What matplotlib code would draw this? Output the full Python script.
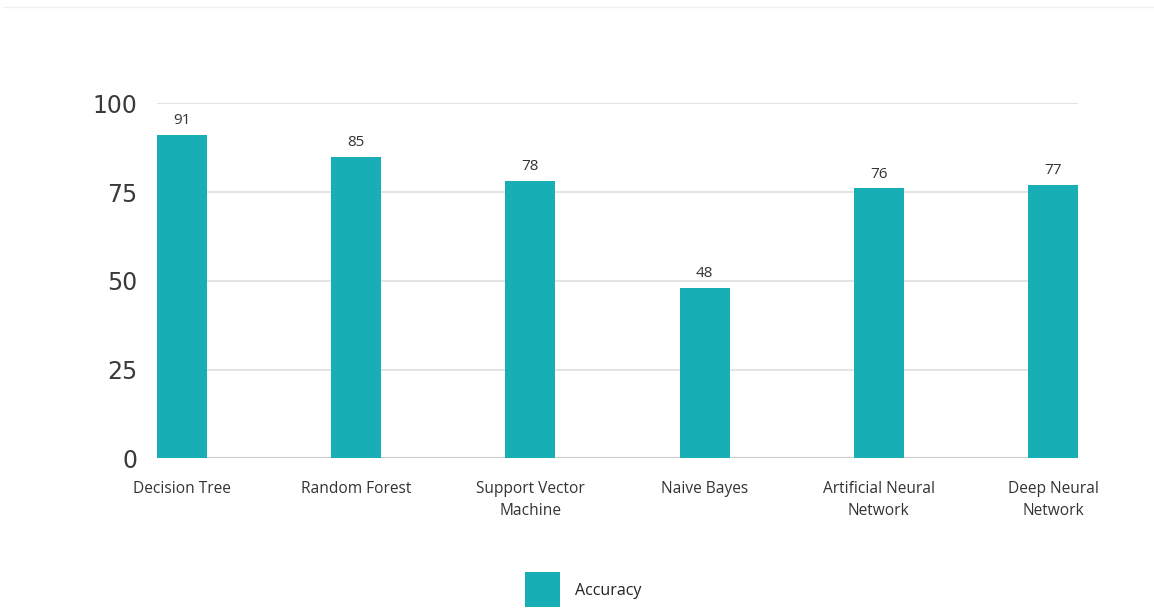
import matplotlib
matplotlib.use("Agg")
import matplotlib.pyplot as plt
from matplotlib.patches import Rectangle
from matplotlib.lines import Line2D

categories = ["Decision Tree", "Random Forest", "Support Vector\nMachine", "Naive Bayes",
              "Artificial Neural\nNetwork", "Deep Neural\nNetwork"]
accuracy = [91, 85, 78, 48, 76, 77]
yticks = [0, 25, 50, 75, 100]
series_name = "Accuracy"

BAR = "#17AEB5"
W, H = 1154, 612
fig = plt.figure(figsize=(W / 100, H / 100), dpi=100)
ax = fig.add_axes([157 / W, (H - 458.3) / H, (1078 - 157) / W, (458.3 - 103.3) / H])

x = list(range(len(categories)))
bw = 0.287
ax.bar(x, accuracy, width=bw, color=BAR, zorder=3)
ax.set_xlim(-bw / 2, len(categories) - 1 + bw / 2)
ax.set_ylim(0, 100)
ax.set_yticks(yticks)
ax.set_yticklabels([str(t) for t in yticks], fontsize=17, color="#3a3a3a", family=["DejaVu Sans"])
ax.tick_params(axis="y", length=0, pad=14)
ax.set_xticks(x)
ax.set_xticklabels(categories, fontsize=11.2, color="#333333", family=["Open Sans", "DejaVu Sans"],
                   linespacing=1.5, va="top")
ax.tick_params(axis="x", length=0, pad=16)
for s in ax.spines.values():
    s.set_visible(False)
ax.grid(axis="y", color="#e2e2e2", linewidth=1.3, zorder=0)
ax.axhline(0, color="#cccccc", linewidth=1.5, zorder=2)

for xi, v in zip(x, accuracy):
    ax.annotate(str(v), (xi, v), xytext=(0, 5), textcoords="offset points", ha="center", va="bottom",
                fontsize=11, color="#333333", family=["Open Sans", "DejaVu Sans"])

# legend
fig.patches.append(Rectangle((525 / W, (H - 607) / H), 35 / W, 35 / H, transform=fig.transFigure,
                             facecolor=BAR, edgecolor="none"))
fig.text(575 / W, (H - 591) / H, series_name, fontsize=11.5, color="#222222", va="center", ha="left",
         family=["Open Sans", "DejaVu Sans"])

# faint frame line at top
fig.add_artist(Line2D([3 / W, 1], [(H - 7) / H] * 2, transform=fig.transFigure, color="#f0f0f0", linewidth=1))

fig.savefig("out.png", dpi=100, facecolor="white")
